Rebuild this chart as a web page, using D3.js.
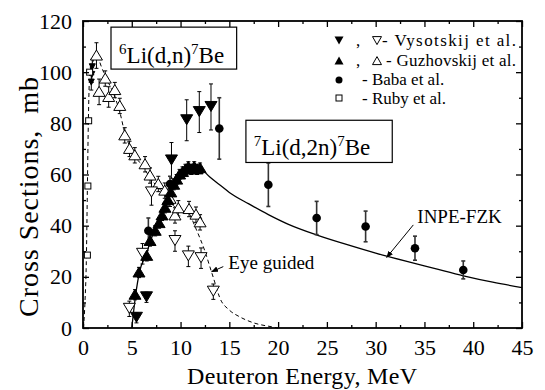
<!DOCTYPE html>
<html><head><meta charset="utf-8">
<script src="https://cdn.jsdelivr.net/npm/d3@7"></script>
<style>
body{margin:0;background:#fff}
svg{display:block}
text{font-family:"Liberation Serif","Times New Roman",Times,serif;fill:#000}
</style>
</head><body>
<svg id="chart" width="545" height="390"></svg>
<script>
// ---------- data (E [MeV], sigma [mb], error [mb]) ----------
const xTicks = [0,5,10,15,20,25,30,35,40,45];
const xMinor = [2.5,7.5,12.5,17.5,22.5,27.5,32.5,37.5,42.5];
const yTicks = [0,20,40,60,80,100,120];
const yMinor = [10,30,50,70,90,110];

// Ruby et al. (open squares)
const rubyData = [[0.45,28.5,0],[0.5,55.5,0],[0.58,81,0],[0.68,100,0]];
// Vysotskij et al. low-energy points (filled, 6Li)
const vysLow = [[0.85,96,3],[0.9,99,3],[0.95,102,3]];
// Guzhovskij et al. 6Li(d,n) (open up triangles)
const guzOpen = [[1.38,106.5,5],[1.65,92.3,5],[2.28,97.5,3],[2.63,90.3,4],[3.26,93,3],[3.77,86.8,3],
  [4.28,75.3,3],[4.77,70,3],[5.31,67.5,3],[6.36,64,3],[6.87,59.6,3],[7.72,56.3,3],[8.38,53.7,3],
  [8.92,50.5,3],[9.43,44,3],[9.77,46.8,3],[10.87,46.5,3],[11.58,44.3,3],[12.0,41.3,3]];
// Vysotskij et al. 6Li(d,n) (open down triangles)
const vysOpen = [[4.75,7.5,3],[6.1,29,4],[7.02,53,5],[9.43,34,4],[10.8,28,4],[12.1,27.3,4],[13.36,14.2,3]];
// Guzhovskij et al. 7Li(d,2n) (filled up triangles)
const guzFilled = [[5.33,13,2],[5.74,21.7,2],[6.53,28.2,2],[6.87,34,2],[7.4,38,2],[7.8,41,2],[8.1,44,2],
  [8.4,47,2],[8.7,50,2],[9.0,53,2],[9.3,56,2],[9.6,58,2],[9.9,60,2],[10.2,61,2],[10.5,62,2],
  [10.8,63,2],[11.1,62,2],[11.4,63,2],[11.7,62,2],[12.0,62.5,2]];
// Vysotskij et al. 7Li(d,2n) (filled down triangles)
const vysFilled = [[5.48,4,2],[6.51,12,2],[9.07,65.5,7],[10.63,81.2,8],[11.92,84.4,8],[13.12,86.4,9]];
// Baba et al. (filled circles)
const babaData = [[6.7,38,5],[8.92,56.3,3],[13.97,78,12],[19.0,56,8.5],[23.95,43,6.5],[28.97,39.7,6],[34.03,31.2,4.7],[38.98,22.7,3.5]];

// Eye-guided curve for 6Li(d,n)7Be (dashed)
const eyeCurve = [[0.05,0],[0.2,10],[0.35,28],[0.45,55],[0.55,81],[0.7,100],[1.0,104],[1.4,106],
  [2.0,101],[2.6,96],[3.3,90],[3.8,84],[4.3,76],[4.8,71],[5.3,67],[6.0,64],[6.5,61],[7.0,58],
  [7.7,55],[8.4,52],[9.0,49],[9.5,47],[10.0,46],[10.8,45],[11.5,39.5],[12.0,35],[12.5,30],
  [13.0,24],[13.5,18],[14.0,12],[15.0,7],[16.0,4.5],[17.5,2],[19.3,0.5],[20,0]];
// INPE-FZK evaluation for 7Li(d,2n)7Be (solid)
const inpeCurve = [[5.0,0],[5.4,13],[5.8,22],[6.5,29],[7.0,35],[7.5,39],[8.0,43],[8.5,48],[9.0,53],
  [9.5,57],[10.0,60],[10.5,62],[11,63],[11.5,63],[12.0,62.5],[13,59],[14,56],[15,53],[17,48.5],
  [19,44.3],[21,40.6],[24,36.3],[27,32.7],[30,29.3],[33,26.2],[36,23.3],[39,20.4],[42,17.9],[45,15.8]];

const legendLabels = ["- Vysotskij et al.","- Guzhovskij et al.","- Baba et al.","- Ruby et al."];

// ---------- drawing ----------
const svg = d3.select("#chart");
const x = d3.scaleLinear([0,45],[83,522]);
const y = d3.scaleLinear([0,120],[328,21]);

const line = d3.line().x(d=>x(d[0])).y(d=>y(d[1])).curve(d3.curveMonotoneX);

svg.append("path").attr("d",line(eyeCurve)).attr("fill","none").attr("stroke","#000")
  .attr("stroke-width",1).attr("stroke-dasharray","4,3");
svg.append("path").attr("d",line(inpeCurve)).attr("fill","none").attr("stroke","#000")
  .attr("stroke-width",1.3);

function triPath(w,h,down){
  const t = down ? h*0.45 : -h*0.55, b = down ? -h*0.55 : h*0.45;
  return `M0,${t}L${w/2},${b}L${-w/2},${b}Z`;
}

function errBars(data, color, sw){
  const g = svg.append("g").attr("stroke",color).attr("stroke-width",sw).attr("fill","none");
  data.filter(d=>d[2]>0).forEach(d=>{
    const cx=x(d[0]), y1=y(d[1]-d[2]), y2=y(d[1]+d[2]);
    g.append("line").attr("x1",cx).attr("x2",cx).attr("y1",y1).attr("y2",y2);
    g.append("line").attr("x1",cx-2).attr("x2",cx+2).attr("y1",y1).attr("y2",y1);
    g.append("line").attr("x1",cx-2).attr("x2",cx+2).attr("y1",y2).attr("y2",y2);
  });
}

errBars(vysLow,"#000",1);
errBars(guzOpen,"#000",1);
errBars(vysOpen,"#000",1);
errBars(guzFilled,"#000",1);
errBars(vysFilled,"#000",1);
errBars(babaData,"#333",1.6);

function tris(data,w,h,down,fill){
  svg.append("g").selectAll("path").data(data).join("path")
    .attr("transform",d=>`translate(${x(d[0])},${y(d[1])})`)
    .attr("d",triPath(w,h,down)).attr("fill",fill).attr("stroke","#000").attr("stroke-width",1);
}
tris(guzOpen,12,10,false,"#fff");
tris(vysOpen,12,10,true,"#fff");
tris(guzFilled,12,10,false,"#000");
tris(vysFilled,12,10,true,"#000");
tris(vysLow,6,6,true,"#000");

svg.append("g").selectAll("circle").data(babaData).join("circle")
  .attr("cx",d=>x(d[0])).attr("cy",d=>y(d[1])).attr("r",4.3).attr("fill","#000");

svg.append("g").selectAll("rect").data(rubyData).join("rect")
  .attr("x",d=>x(d[0])-3).attr("y",d=>y(d[1])-3).attr("width",6).attr("height",6)
  .attr("fill","#fff").attr("stroke","#000").attr("stroke-width",1);

// ---------- reaction label boxes ----------
function reactionBox(e0,s0,e1,s1,tx,ty,pre,mid,post){
  svg.append("rect").attr("x",x(e0)).attr("y",y(s0)).attr("width",x(e1)-x(e0)).attr("height",y(s1)-y(s0))
    .attr("fill","#fff").attr("stroke","#000").attr("stroke-width",1.2);
  const t = svg.append("text").attr("x",x(tx)).attr("y",y(ty)).attr("font-size",23);
  t.append("tspan").attr("font-size",15).attr("dy",-9).text(pre);
  t.append("tspan").attr("dy",9).text(mid);
  t.append("tspan").attr("font-size",15).attr("dy",-9).text("7");
  t.append("tspan").attr("dy",9).text(post);
}
reactionBox(2.87,117.6,15.75,101.2,3.7,103.5,"6","Li(d,n)","Be");
reactionBox(16.7,81.2,31.7,64.7,17.5,67.5,"7","Li(d,2n)","Be");

// ---------- annotations ----------
svg.append("defs").append("marker").attr("id","arr").attr("viewBox","0 0 10 10")
  .attr("refX",9).attr("refY",5).attr("markerWidth",7).attr("markerHeight",7).attr("orient","auto")
  .append("path").attr("d","M0,1L10,5L0,9Z").attr("fill","#000");
svg.append("line").attr("x1",x(33.86)).attr("y1",y(40.3)).attr("x2",x(31.13)).attr("y2",y(27.6))
  .attr("stroke","#000").attr("stroke-width",1).attr("marker-end","url(#arr)");
svg.append("line").attr("x1",x(14.38)).attr("y1",y(24.0)).attr("x2",x(13.19)).attr("y2",y(22.0))
  .attr("stroke","#000").attr("stroke-width",1).attr("marker-end","url(#arr)");
svg.append("text").attr("x",x(34.27)).attr("y",y(40.9)).attr("font-size",19).text("INPE-FZK");
svg.append("text").attr("x",x(14.9)).attr("y",y(22.9)).attr("font-size",19).text("Eye guided");

// ---------- legend ----------
const lg = svg.append("g").attr("font-size",17);
const lx = 339, rows=[41,61,80,98];
lg.append("path").attr("transform",`translate(${lx},${rows[0]})`).attr("d",triPath(9,8,true)).attr("fill","#000");
lg.append("text").attr("x",356).attr("y",rows[0]+5).text(",");
lg.append("path").attr("transform",`translate(377,${rows[0]})`).attr("d",triPath(9,8,true)).attr("fill","#fff").attr("stroke","#000");
lg.append("text").attr("x",382).attr("y",rows[0]+5).attr("textLength",134).attr("lengthAdjust","spacing").text(legendLabels[0]);
lg.append("path").attr("transform",`translate(${lx},${rows[1]})`).attr("d",triPath(9,8,false)).attr("fill","#000");
lg.append("text").attr("x",356).attr("y",rows[1]+5).text(",");
lg.append("path").attr("transform",`translate(377,${rows[1]})`).attr("d",triPath(9,8,false)).attr("fill","#fff").attr("stroke","#000");
lg.append("text").attr("x",386).attr("y",rows[1]+5).attr("textLength",130).attr("lengthAdjust","spacing").text(legendLabels[1]);
lg.append("circle").attr("cx",lx).attr("cy",rows[2]).attr("r",3.5).attr("fill","#000");
lg.append("text").attr("x",362).attr("y",rows[2]+5).text(legendLabels[2]);
lg.append("rect").attr("x",lx-3).attr("y",rows[3]-3).attr("width",6).attr("height",6).attr("fill","#fff").attr("stroke","#000");
lg.append("text").attr("x",362).attr("y",rows[3]+6).text(legendLabels[3]);

// ---------- axes ----------
function axis(gen,tr,vals,size,fmt){
  const g = svg.append("g").attr("transform",tr)
    .call(gen.tickValues(vals).tickSize(size).tickFormat(fmt));
  g.select(".domain").remove();
  g.selectAll("line").attr("stroke","#000").attr("stroke-width",1.3);
  g.selectAll("text").attr("font-family",'"Liberation Serif","Times New Roman",serif').attr("font-size",22).attr("fill","#000");
  return g;
}
const nf = d3.format("d");
axis(d3.axisBottom(x),"translate(0,328)",xTicks,-6,nf).call(g=>g.selectAll("text").attr("y",11));
axis(d3.axisBottom(x),"translate(0,328)",xMinor,-3,"");
axis(d3.axisTop(x),"translate(0,21)",xTicks,-6,"");
axis(d3.axisTop(x),"translate(0,21)",xMinor,-3,"");
axis(d3.axisLeft(y),"translate(83,0)",yTicks,-6,nf).call(g=>g.selectAll("text").attr("x",-11));
axis(d3.axisLeft(y),"translate(83,0)",yMinor,-3,"");
axis(d3.axisRight(y),"translate(522,0)",yTicks,-6,"");
axis(d3.axisRight(y),"translate(522,0)",yMinor,-3,"");

svg.append("rect").attr("x",83).attr("y",21).attr("width",522-83).attr("height",328-21)
  .attr("fill","none").attr("stroke","#000").attr("stroke-width",1.8);

svg.append("text").attr("x",302).attr("y",384).attr("text-anchor","middle").attr("font-size",24)
  .attr("textLength",230).attr("lengthAdjust","spacing").text("Deuteron Energy, MeV");
svg.append("text").attr("transform","translate(38,197) rotate(-90)").attr("text-anchor","middle")
  .attr("font-size",28).attr("textLength",240).attr("lengthAdjust","spacing")
  .style("white-space","pre").text("Cross Sections,  mb");
</script>
</body></html>
